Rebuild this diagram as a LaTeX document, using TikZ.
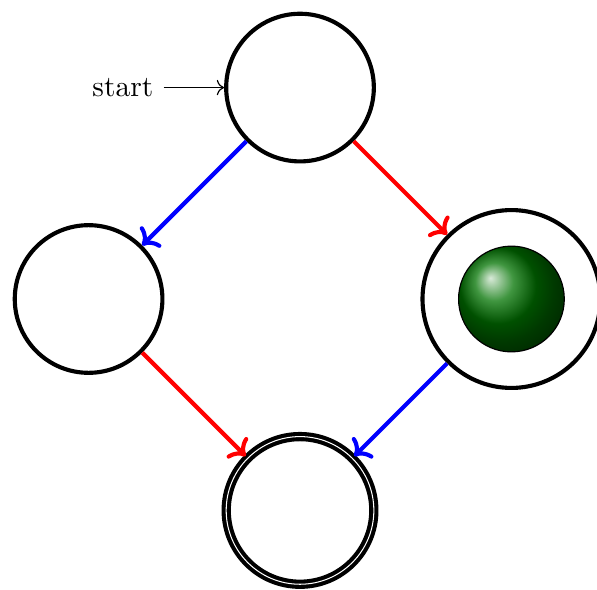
\documentclass[tikz,border=0pt]{standalone}
\usepackage{tikz}
\usetikzlibrary{automata, arrows.meta, positioning}
\tikzset{
    % State styles
    every state/.style={
        draw=black,
        line width=1.4pt,
        minimum size=1.76cm
    },
    bigstate/.style={
        state,
        minimum size=2.12cm
    },
    ballnode/.style={
        circle,
        draw=black,
        thin,
        shade,
        ball color=green!45!black,
        minimum size=1.26cm
    },
    % Arrow styles
    bluearrow/.style={
        ->,
        line width=1.4pt,
        draw=blue
    },
    redarrow/.style={
        ->,
        line width=1.4pt,
        draw=red
    }
}
\begin{document}
\begin{tikzpicture}
    \useasboundingbox (-3.576,-3.468) rectangle (3.540,3.564);

    \node[state, initial, initial text=start, initial distance=0.72cm] (q0) at (0,2.52) {};
    \node[state] (q1) at (-2.52,0) {};
    \node[bigstate] (q2) at (2.52,0) {};
    \node[ballnode] (ball) at (q2) {};
    \node[state, accepting, double distance=0.35pt] (q3) at (0,-2.52) {};

    \draw[bluearrow] (q0) -- (q1);
    \draw[redarrow] (q0) -- (q2);
    \draw[redarrow] (q1) -- (q3);
    \draw[bluearrow] (q2) -- (q3);
\end{tikzpicture}
\end{document}
